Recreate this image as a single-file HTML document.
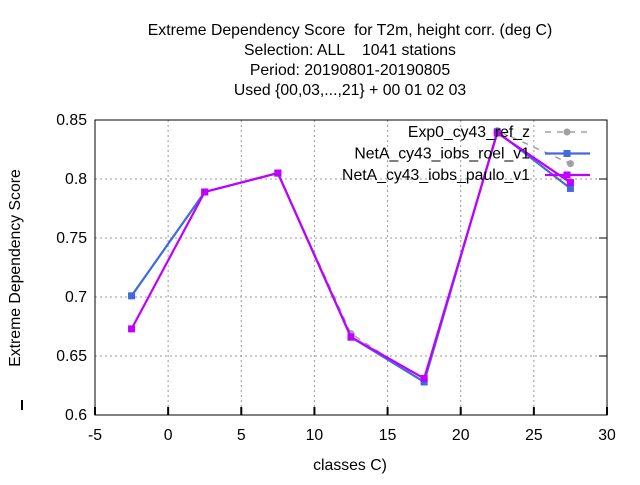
<!DOCTYPE html>
<html><head><meta charset="utf-8"><style>
body{margin:0;background:#fff}
svg text{font-family:"Liberation Sans",sans-serif;font-size:15.8px;fill:#000;white-space:pre}
</style></head><body>
<svg width="640" height="480" xmlns="http://www.w3.org/2000/svg">
<g text-anchor="middle">
<text x="350" y="35">Extreme Dependency Score  for T2m, height corr. (deg C)</text>
<text x="350" y="55">Selection: ALL    1041 stations</text>
<text x="350" y="75">Period: 20190801-20190805</text>
<text x="350" y="95">Used {00,03,...,21} + 00 01 02 03</text>
</g>
<g id="grid"></g>
<g id="axes"></g>
<g id="series"></g>
<text x="350" y="470" text-anchor="middle">classes C)</text>
<text transform="translate(20,268) rotate(-90)" text-anchor="middle">Extreme Dependency Score</text>
<g id="legend"></g>
</svg>
<script>
const categories=[-2.5,2.5,7.5,12.5,17.5,22.5,27.5];
const refValues=[0.701,0.789,0.805,0.669,0.628,0.841,0.813];
const roelValues=[0.701,0.789,0.805,0.666,0.628,0.840,0.792];
const pauloValues=[0.673,0.789,0.805,0.666,0.631,0.839,0.797];
const xTicks=[-5,0,5,10,15,20,25,30];
const yTicks=[0.6,0.65,0.7,0.75,0.8,0.85];
const seriesNames=["Exp0_cy43_ref_z","NetA_cy43_iobs_roel_v1","NetA_cy43_iobs_paulo_v1"];
const NS="http://www.w3.org/2000/svg";
const X0=95,X1=607,Y0=415,Y1=120;
const sx=v=>X0+(v+5)/35*(X1-X0);
const sy=v=>Y0-(v-0.6)/0.25*(Y0-Y1);
function mk(t,a,p){const e=document.createElementNS(NS,t);for(const k in a)e.setAttribute(k,a[k]);p.appendChild(e);return e;}
const grid=document.getElementById('grid'),axes=document.getElementById('axes');
xTicks.forEach(v=>{const x=sx(v);
 if(v>-5&&v<30){const l=mk('line',{x1:x,x2:x,y1:Y1,y2:Y0,stroke:'#999','stroke-dasharray':'2,3'},grid);
 }
 mk('line',{x1:x,x2:x,y1:Y0,y2:Y0-8,stroke:'#000','stroke-width':2},axes);
 const t=mk('text',{x:x,y:Y0+25,'text-anchor':'middle'},axes);t.textContent=v;
 });
yTicks.forEach(v=>{const y=sy(v);
 if(v>0.6&&v<0.85){const l=mk('line',{x1:X0,x2:X1,y1:y,y2:y,stroke:'#999','stroke-dasharray':'2,3'},grid);
 }
 mk('line',{x1:X1,x2:X1-8,y1:y,y2:y,stroke:'#000'},axes);
 const t=mk('text',{x:X0-8,y:y+5,'text-anchor':'end'},axes);t.textContent=String(v);
 });
mk('rect',{x:X0,y:Y1,width:X1-X0,height:Y0-Y1,fill:'none',stroke:'#000'},axes);
mk('line',{x1:22,x2:22,y1:400,y2:410,stroke:'#000','stroke-width':2},axes);
const ser=document.getElementById('series'),leg=document.getElementById('legend');
const styles=[{c:'#a0a0a0',d:'6,6',w:1.5,m:'circle'},{c:'#4169e1',d:'',w:2.2,m:'sq'},{c:'#c000ff',d:'',w:2.2,m:'sq'}];
[refValues,roelValues,pauloValues].forEach((vals,i)=>{const s=styles[i];
 const g=mk('g',{},ser);
 const pts=vals.map((v,j)=>sx(categories[j])+','+sy(v)).join(' ');
 const pl=mk('polyline',{points:pts,fill:'none',stroke:s.c,'stroke-width':s.w,'stroke-dasharray':s.d},g);
 
 vals.forEach((v,j)=>{const x=sx(categories[j]),y=sy(v);
  const p=s.m==='circle'?mk('circle',{cx:x,cy:y,r:3.5,fill:s.c},g):mk('rect',{x:x-3.5,y:y-3.5,width:7,height:7,fill:s.c},g);
  });
 const ly=132+i*21.5;
 const lg=mk('g',{},leg);
 const t=mk('text',{x:530,y:ly+5,'text-anchor':'end'},lg);t.textContent=seriesNames[i];
 mk('line',{x1:545,x2:590,y1:ly,y2:ly,stroke:s.c,'stroke-width':s.w,'stroke-dasharray':s.d},lg);
 if(s.m==='circle')mk('circle',{cx:567,cy:ly,r:3.5,fill:s.c},lg);else mk('rect',{x:563.5,y:ly-3.5,width:7,height:7,fill:s.c},lg);
});
</script>
</body></html>
